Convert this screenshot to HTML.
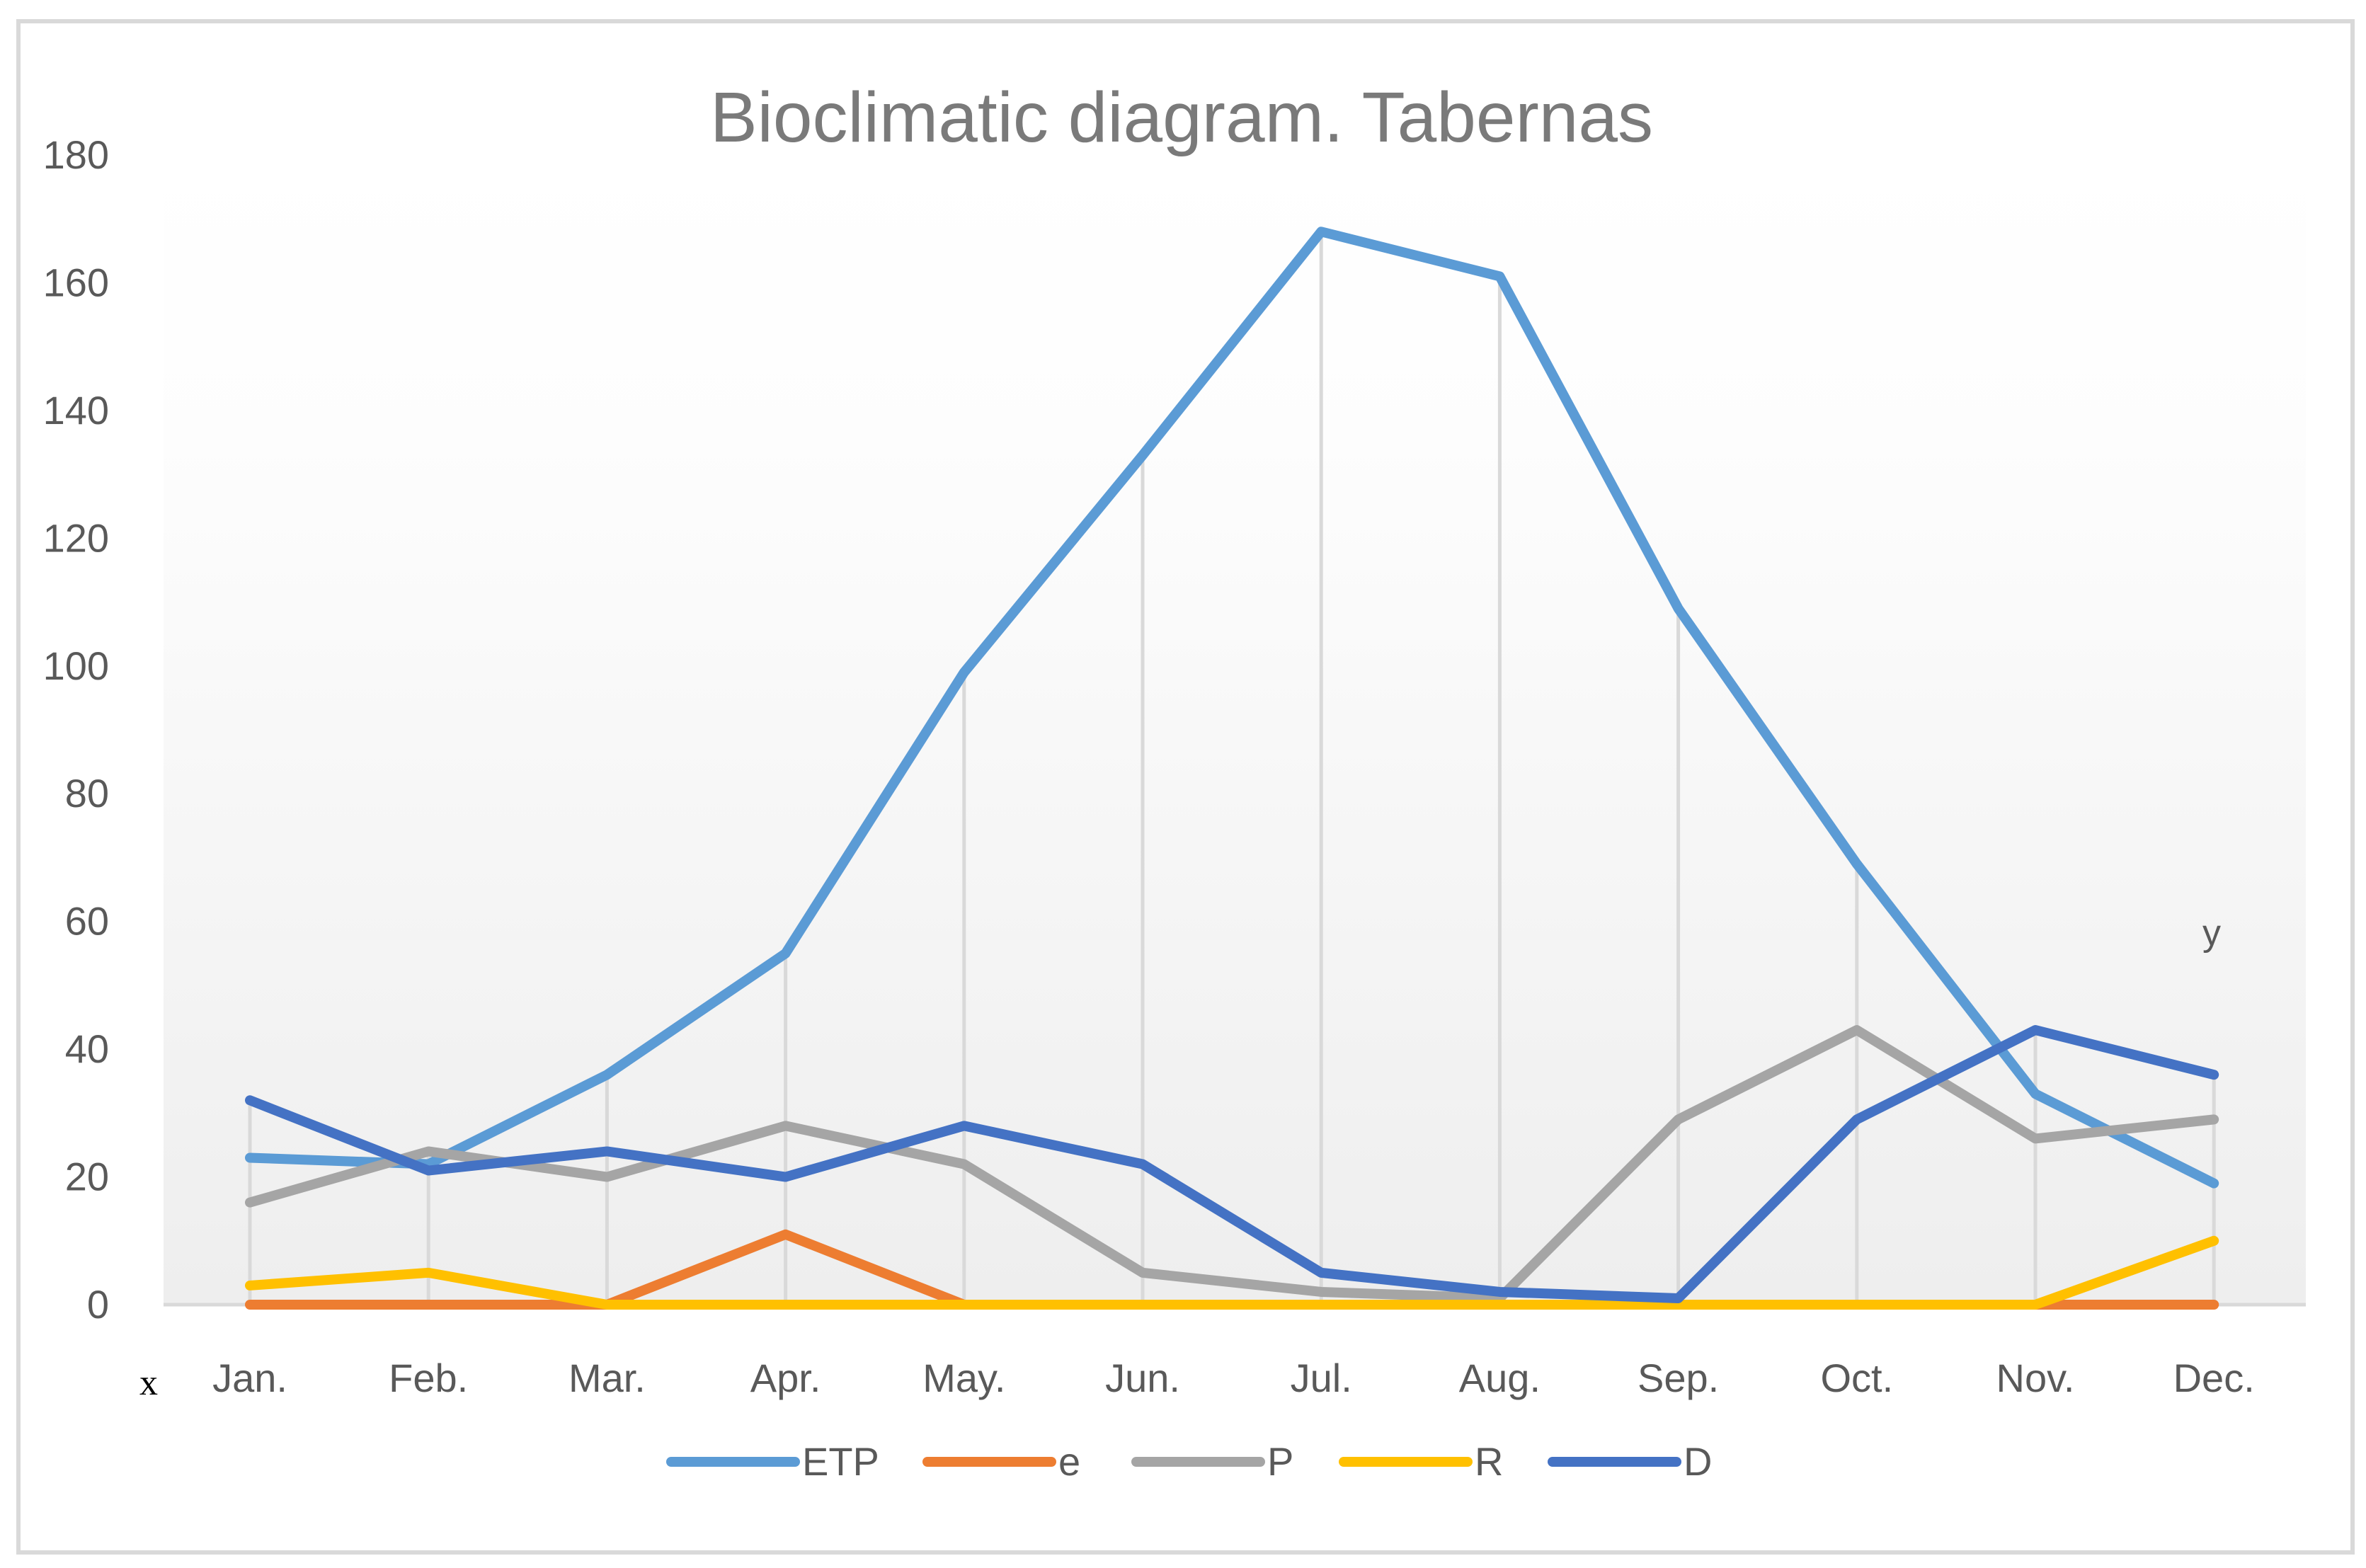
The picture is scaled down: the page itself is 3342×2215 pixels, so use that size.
<!DOCTYPE html>
<html><head><meta charset="utf-8"><style>
html,body{margin:0;padding:0;background:#fff;}
svg{display:block;font-family:"Liberation Sans",sans-serif;}
</style></head><body>
<svg id="chart" width="3342" height="2215" viewBox="0 0 3342 2215" xmlns="http://www.w3.org/2000/svg">
<defs><linearGradient id="bg" x1="0" y1="0" x2="0" y2="1"><stop offset="0" stop-color="#ffffff"/><stop offset="0.25" stop-color="#fdfdfd"/><stop offset="1" stop-color="#eeeeee"/></linearGradient></defs>
<rect x="26" y="30" width="3297" height="2163" fill="#fff" stroke="#d9d9d9" stroke-width="6"/>
<rect x="231" y="220" width="3026" height="1623" fill="url(#bg)"/>
<text x="1669" y="200" text-anchor="middle" font-size="100" fill="#7a7a7a">Bioclimatic diagram. Tabernas</text>
<g id="grid"></g><g id="yaxis"></g><g id="xaxis"></g><g id="series"></g><g id="legend"></g>
<text x="210" y="1970" text-anchor="middle" font-size="52" font-family="Liberation Serif, serif" fill="#000">x</text>
<text x="3124" y="1335" text-anchor="middle" font-size="52" fill="#595959">y</text>
</svg>
<script>
const months=["Jan.","Feb.","Mar.","Apr.","May.","Jun.","Jul.","Aug.","Sep.","Oct.","Nov.","Dec."];
const yTicks=[0,20,40,60,80,100,120,140,160,180];
const seriesNames=["ETP","e","P","R","D"];
const seriesColors=["#5b9bd5","#ed7d31","#a5a5a5","#ffc000","#4472c4"];
const ETP=[23,22,36,55,99,133,168,161,109,69,33,19];
const eVals=[0,0,0,11,0,0,0,0,0,0,0,0];
const P=[16,24,20,28,22,5,2,1,29,43,26,29];
const R=[3,5,0,0,0,0,0,0,0,0,0,10];
const D=[32,21,24,20,28,22,5,2,1,29,43,36];
const allSeries=[ETP,eVals,P,R,D];
const NS="http://www.w3.org/2000/svg";
const x0=353,dx=252.2,y0=1843,yTop=219,yMax=180;
const X=i=>x0+i*dx, Y=v=>y0-(v/yMax)*(y0-yTop);
function mk(t,a,p){const e=document.createElementNS(NS,t);for(const k in a)e.setAttribute(k,a[k]);p.appendChild(e);return e;}
const grid=document.getElementById('grid');
months.forEach((m,i)=>{const mx=Math.max(...allSeries.map(s=>s[i]));
const l=mk('line',{x1:X(i),x2:X(i),y1:Y(mx),y2:y0,stroke:'#d9d9d9','stroke-width':5},grid);

});
const base=mk('line',{x1:231,x2:3257,y1:y0,y2:y0,stroke:'#d9d9d9','stroke-width':5},grid);


const ya=document.getElementById('yaxis');
yTicks.forEach(v=>{const t=mk('text',{x:154,y:Y(v)+19,'text-anchor':'end','font-size':56,fill:'#595959'},ya);t.textContent=v;

});
const xa=document.getElementById('xaxis');
months.forEach((m,i)=>{const t=mk('text',{x:X(i),y:1966,'text-anchor':'middle','font-size':56,fill:'#595959'},xa);t.textContent=m;

});
const sg=document.getElementById('series');
allSeries.forEach((s,k)=>{const pts=s.map((v,i)=>X(i)+','+Y(v)).join(' ');
const pl=mk('polyline',{points:pts,fill:'none',stroke:seriesColors[k],'stroke-width':14,'stroke-linejoin':'round','stroke-linecap':'round'},sg);

});
const lg=document.getElementById('legend');
const lx=[948,1310,1605,1898,2193];
seriesNames.forEach((n,k)=>{const g=mk('g',{},lg);


mk('line',{x1:lx[k],x2:lx[k]+175,y1:2065,y2:2065,stroke:seriesColors[k],'stroke-width':14,'stroke-linecap':'round'},g);
const t=mk('text',{x:lx[k]+185,y:2084,'font-size':56,fill:'#595959'},g);t.textContent=n;});
</script>
</body></html>
